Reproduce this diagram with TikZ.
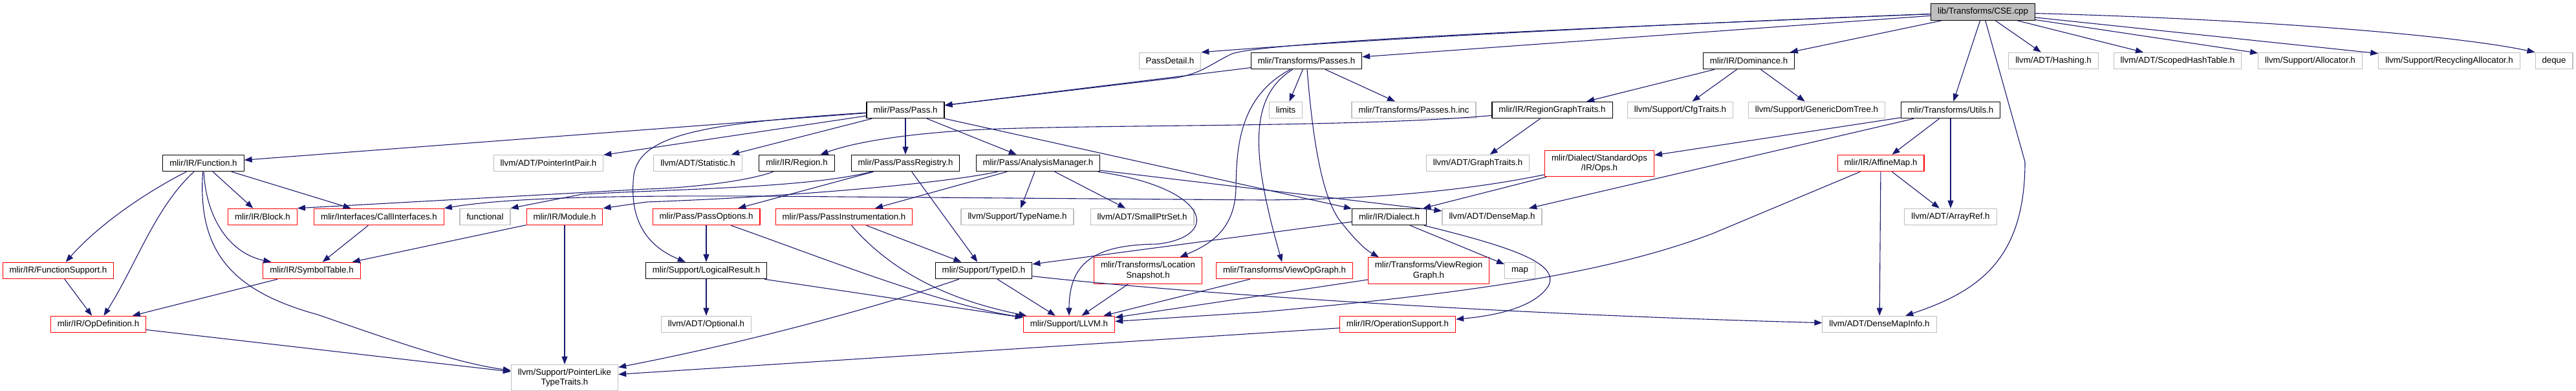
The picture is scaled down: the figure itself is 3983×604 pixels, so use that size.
\documentclass[tikz,border=0pt]{standalone}
\usepackage{fontspec}
\setmainfont{Liberation Sans}
\usetikzlibrary{arrows.meta}
\definecolor{edgeblue}{HTML}{191970}
\definecolor{extgray}{HTML}{BFBFBF}
\definecolor{rootgray}{HTML}{BFBFBF}

\begin{document}
\begin{tikzpicture}[x=1pt, y=-1pt,
    file/.style={rectangle, line width=1.1pt, font=\fontsize{13.3}{15.5}\selectfont,
      inner xsep=10.5pt, inner ysep=0pt, minimum height=25.5pt, align=center},
    hdr/.style={file, draw=black},
    trunc/.style={file, draw=red},
    ext/.style={file, draw=extgray},
    root/.style={file, draw=black, fill=rootgray},
    tall/.style={minimum height=40.5pt},
    dep/.style={draw=edgeblue, line width=1.1pt, -{Triangle[length=12pt,width=9pt]}}]
  \useasboundingbox (0,0) rectangle (3983,604);
  % the file itself
  \node[root] (cse) at (3066,18.5) {lib/Transforms/CSE.cpp};
  % direct includes
  \node[ext] (passdetail) at (1809,94) {PassDetail.h};
  \node[hdr] (tpasses) at (2020,94) {mlir/Transforms/Passes.h};
  \node[hdr] (dominance) at (2704,94) {mlir/IR/Dominance.h};
  \node[ext] (hashing) at (3175,94) {llvm/ADT/Hashing.h};
  \node[ext] (scopedhash) at (3367,94) {llvm/ADT/ScopedHashTable.h};
  \node[ext] (allocator) at (3572,94) {llvm/Support/Allocator.h};
  \node[ext] (recycling) at (3787,94) {llvm/Support/RecyclingAllocator.h};
  \node[ext] (deque) at (3949,94) {deque};
  % second level
  \node[hdr] (pass) at (1400,170) {mlir/Pass/Pass.h};
  \node[ext] (limits) at (1988,170) {limits};
  \node[ext] (passesinc) at (2186,170) {mlir/Transforms/Passes.h.inc};
  \node[hdr] (regiongraph) at (2400,170) {mlir/IR/RegionGraphTraits.h};
  \node[ext] (cfgtraits) at (2598,170) {llvm/Support/CfgTraits.h};
  \node[ext] (gendomtree) at (2809,170) {llvm/Support/GenericDomTree.h};
  \node[hdr] (tutils) at (3016,170) {mlir/Transforms/Utils.h};
  % third level
  \node[hdr] (function) at (314.5,252) {mlir/IR/Function.h};
  \node[ext] (pointerint) at (848,252) {llvm/ADT/PointerIntPair.h};
  \node[ext] (statistic) at (1079,252) {llvm/ADT/Statistic.h};
  \node[hdr] (region) at (1232,252) {mlir/IR/Region.h};
  \node[hdr] (passregistry) at (1400,252) {mlir/Pass/PassRegistry.h};
  \node[hdr] (analysis) at (1605,252) {mlir/Pass/AnalysisManager.h};
  \node[ext] (graphtraits) at (2285,252) {llvm/ADT/GraphTraits.h};
  \node[trunc, tall] (stdops) at (2473,252.5) {mlir/Dialect/StandardOps\\/IR/Ops.h};
  \node[trunc] (affinemap) at (2908,252) {mlir/IR/AffineMap.h};
  % fourth level
  \node[trunc] (block) at (406,335) {mlir/IR/Block.h};
  \node[trunc] (callif) at (586,335) {mlir/Interfaces/CallInterfaces.h};
  \node[ext] (functional) at (750,335) {functional};
  \node[trunc] (module) at (873,335) {mlir/IR/Module.h};
  \node[trunc] (passoptions) at (1092,335) {mlir/Pass/PassOptions.h};
  \node[trunc] (passinstr) at (1305,335) {mlir/Pass/PassInstrumentation.h};
  \node[ext] (typename) at (1573,335) {llvm/Support/TypeName.h};
  \node[ext] (smallptr) at (1766,335) {llvm/ADT/SmallPtrSet.h};
  \node[hdr] (dialect) at (2148,335) {mlir/IR/Dialect.h};
  \node[ext] (densemap) at (2307,335) {llvm/ADT/DenseMap.h};
  \node[ext] (arrayref) at (3016,335) {llvm/ADT/ArrayRef.h};
  % fifth level
  \node[trunc] (funcsupport) at (90,418) {mlir/IR/FunctionSupport.h};
  \node[trunc] (symtable) at (482,418) {mlir/IR/SymbolTable.h};
  \node[hdr] (logicalres) at (1092,418) {mlir/Support/LogicalResult.h};
  \node[hdr] (typeid) at (1521,418) {mlir/Support/TypeID.h};
  \node[trunc, tall] (locsnap) at (1775,418) {mlir/Transforms/Location\\Snapshot.h};
  \node[trunc] (viewop) at (1986,418) {mlir/Transforms/ViewOpGraph.h};
  \node[trunc, tall] (viewregion) at (2209,418) {mlir/Transforms/ViewRegion\\Graph.h};
  \node[ext] (map) at (2350,418) {map};
  % sixth level
  \node[trunc] (opdef) at (152,501) {mlir/IR/OpDefinition.h};
  \node[ext] (optional) at (1092,501) {llvm/ADT/Optional.h};
  \node[trunc] (llvm) at (1653,501) {mlir/Support/LLVM.h};
  \node[trunc] (opsupport) at (2161,501) {mlir/IR/OperationSupport.h};
  \node[ext] (densemapinfo) at (2906,501) {llvm/ADT/DenseMapInfo.h};
  % bottom
  \node[ext, tall] (pointerlike) at (873,583.5) {llvm/Support/PointerLike\\TypeTraits.h};

  % from CSE.cpp
  \draw[dep] (cse) .. controls (2500,40) and (2100,62) .. (passdetail.north east);
  \draw[dep] (cse) .. controls (2400,45) and (1960,65) .. (1905,83) .. controls (1870,100) and (1860,112) .. (1820,120) -- (pass);
  \draw[dep] (cse) -- (tpasses);
  \draw[dep] (cse) -- (dominance);
  \draw[dep] (cse) -- (tutils);
  \draw[dep] (cse) -- (3131,250) .. controls (3131,400) and (3060,450) .. (densemapinfo);
  \draw[dep] (cse) -- (hashing);
  \draw[dep] (cse) -- (scopedhash);
  \draw[dep] (cse) -- (allocator);
  \draw[dep] (cse) -- (recycling);
  \draw[dep] (cse) .. controls (3500,30) and (3800,55) .. (deque.north west);
  % Transforms/Passes.h
  \draw[dep] (tpasses) -- (pass);
  \draw[dep] (tpasses) -- (limits);
  \draw[dep] (tpasses) -- (passesinc);
  \draw[dep] (tpasses) .. controls (1915,150) and (1912,230) .. (1911,290) .. controls (1910,355) and (1870,378) .. (locsnap);
  \draw[dep] (tpasses) .. controls (1930,150) and (1935,240) .. (viewop);
  \draw[dep] (tpasses) .. controls (2030,220) and (2045,310) .. (2075,345) .. controls (2095,370) and (2110,385) .. ([xshift=17pt]viewregion.north west);
  % Dominance.h
  \draw[dep] (dominance) -- (regiongraph);
  \draw[dep] (dominance) -- (cfgtraits);
  \draw[dep] (dominance) -- (gendomtree);
  % Utils.h
  \draw[dep] (tutils) -- (stdops);
  \draw[dep] (tutils) -- (densemap);
  \draw[dep] (tutils) -- (affinemap);
  \draw[dep] (tutils) -- (arrayref);
  \draw[dep] (affinemap) -- (densemapinfo);
  \draw[dep] (affinemap) -- (arrayref);
  \draw[dep] (affinemap) -- (2650,360) .. controls (2480,425) and (2250,455) .. (1950,482) -- (llvm);
  % RegionGraphTraits.h
  \draw[dep] (regiongraph) -- (graphtraits);
  \draw[dep] (regiongraph) .. controls (2100,197) and (1700,192) .. (1520,200) .. controls (1400,206) and (1320,220) .. (region);
  % Ops.h
  \draw[dep] (stdops) -- (dialect);
  \draw[dep] (stdops) .. controls (2250,298) and (2100,308) .. (1950,309) -- (1300,304) .. controls (1000,301) and (800,303) .. (callif.north east);
  % Pass.h
  \draw[dep] (pass) -- (function);
  \draw[dep] (pass) -- (pointerint);
  \draw[dep] (pass) .. controls (1100,190) and (990,205) .. (980,270) .. controls (972,340) and (1000,380) .. (logicalres);
  \draw[dep] (pass) -- (statistic);
  \draw[dep] (pass) -- (passregistry);
  \draw[dep] (pass) -- (analysis);
  \draw[dep] (pass) -- (dialect);
  \draw[dep] (region) .. controls (1150,282) and (1050,291) .. (1000,292) -- (block.north east);
  % PassRegistry.h
  \draw[dep] (passregistry) -- (passoptions);
  \draw[dep] (passregistry) .. controls (1250,290) and (1050,292) .. (900,300) -- (functional.north east);
  \draw[dep] (passregistry) -- (typeid);
  % AnalysisManager.h
  \draw[dep] (analysis) .. controls (1450,285) and (1200,305) .. (1000,312) -- (module.north east);
  \draw[dep] (analysis) -- (passinstr);
  \draw[dep] (analysis) -- (typename);
  \draw[dep] (analysis) -- (smallptr);
  \draw[dep] (analysis) -- (densemap);
  \draw[dep] (analysis) .. controls (1870,290) and (1890,365) .. (1790,377) .. controls (1700,378) and (1653,400) .. (llvm);
  % Dialect.h
  \draw[dep] (dialect) -- (typeid);
  \draw[dep] (dialect) -- (map);
  \draw[dep] (dialect) .. controls (2330,380) and (2410,405) .. (2395,440) .. controls (2375,475) and (2310,488) .. (opsupport);
  % pass support headers
  \draw[dep] (passinstr) -- (typeid);
  \draw[dep] (passinstr) .. controls (1370,410) and (1450,460) .. (llvm);
  \draw[dep] (passoptions) -- (logicalres);
  \draw[dep] (passoptions) .. controls (1250,390) and (1450,470) .. (llvm);
  \draw[dep] (logicalres) -- (optional);
  \draw[dep] (logicalres) -- (llvm);
  \draw[dep] (typeid) -- (llvm);
  \draw[dep] (typeid) .. controls (1400,460) and (1200,520) .. (pointerlike);
  \draw[dep] (typeid) .. controls (1800,450) and (2300,485) .. (densemapinfo);
  % transforms headers
  \draw[dep] (locsnap) -- (llvm);
  \draw[dep] (viewop) -- (llvm);
  \draw[dep] (viewregion) -- (llvm);
  \draw[dep] (opsupport) -- (pointerlike);
  % IR headers
  \draw[dep] (module) -- (pointerlike);
  \draw[dep] (module) -- (symtable);
  \draw[dep] (function) .. controls (220,300) and (150,350) .. (funcsupport);
  \draw[dep] (function) .. controls (240,320) and (210,410) .. (opdef);
  \draw[dep] (function) .. controls (305,390) and (360,450) .. (491,486) .. controls (590,520) and (700,560) .. (pointerlike);
  \draw[dep] (function) .. controls (318,330) and (350,390) .. (symtable);
  \draw[dep] (function) -- (block);
  \draw[dep] (function) -- (callif);
  \draw[dep] (funcsupport) -- (opdef);
  \draw[dep] (symtable) -- (opdef);
  \draw[dep] (callif) -- (symtable);
  \draw[dep] (opdef) -- (pointerlike);
\end{tikzpicture}
\end{document}
